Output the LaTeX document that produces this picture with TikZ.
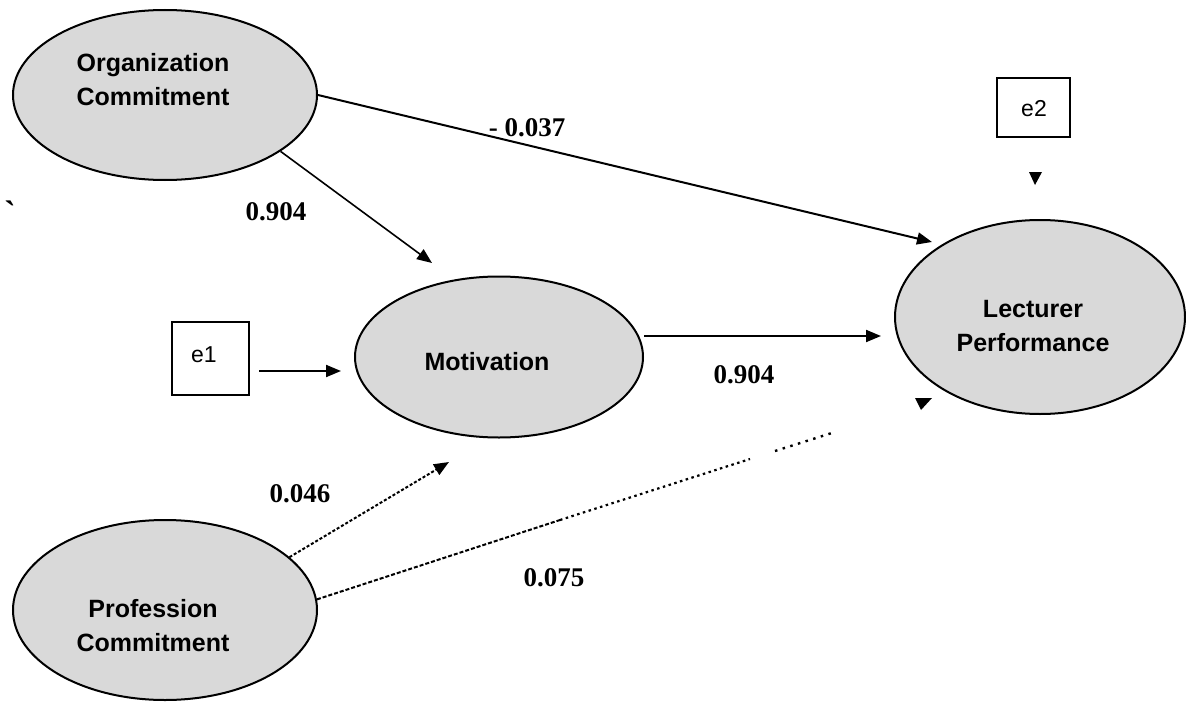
\documentclass[tikz,border=0pt]{standalone}
\usepackage{fontspec}
\setmainfont{Liberation Sans}
\newfontfamily\tnr{Liberation Serif}
\newfontfamily\tnrplain[Ligatures=TeXOff]{Liberation Serif}
\usetikzlibrary{arrows.meta,shapes.geometric}
\definecolor{latentfill}{RGB}{217,217,217}
\tikzset{
  latent/.style={ellipse, draw=black, line width=2pt, fill=latentfill, inner sep=0pt},
  vname/.style={font=\fontsize{25}{34}\selectfont\bfseries, align=center, inner sep=0pt},
  errbox/.style={rectangle, draw=black, line width=2.2pt, fill=white, inner sep=0pt, font=\fontsize{22}{26}\selectfont},
  coef/.style={font=\tnr\fontsize{27}{30}\selectfont\bfseries, inner sep=0pt},
  patharrow/.style={line width=2pt, -{Triangle[length=15pt,width=12pt]}},
  tiptri/.style={fill=black},
}
\begin{document}
\begin{tikzpicture}[x=1pt,y=-1pt]
\useasboundingbox (0,0) rectangle (1186,709);
\fill[white] (0,0) rectangle (1186,709);

% latent variables
\node[latent, minimum width=304pt, minimum height=170pt] (org) at (165,95) {};
\node[vname] (orgt) at (153,80) {Organization\\Commitment};
\node[latent, minimum width=288pt, minimum height=161pt] (mot) at (499,357) {};
\node[vname] (mott) at (487,362) {Motivation};
\node[latent, minimum width=290pt, minimum height=194pt] (lect) at (1040,317) {};
\node[vname] (lectt) at (1033,326) {Lecturer\\Performance};
\node[latent, minimum width=304pt, minimum height=180pt] (prof) at (165,610) {};
\node[vname] (proft) at (153,626) {Profession\\Commitment};

% error terms
\node[errbox, minimum width=77pt, minimum height=73pt] (e1) at (210.5,358.5) {};
\node[font=\fontsize{23}{26}\selectfont, inner sep=0pt] (e1t) at (204,355) {e1};
\node[errbox, minimum width=73pt, minimum height=59pt] (e2) at (1033.5,107.5) {};
\node[font=\fontsize{23}{26}\selectfont, inner sep=0pt] (e2t) at (1034,109) {e2};

% free ends
\coordinate (olA) at (932,242);
\coordinate (omA) at (432,263);
\coordinate (pmA) at (449,462);
\coordinate (pl1) at (560,520);
\coordinate (pl2) at (750,459);
\coordinate (pl3) at (775,451);
\coordinate (pl4) at (835,432);

% connectors
\draw[patharrow] (org.east) -- (olA);
\draw[patharrow, line width=1.6pt] (org.-26) -- (omA);
\draw[patharrow] ([xshift=9pt,yshift=-12.5pt]e1.east) -- ([xshift=-13pt,yshift=-14pt]mot.west);
\draw[patharrow] ([yshift=21pt]mot.east) -- ([xshift=-13pt,yshift=-19pt]lect.west);
\draw[patharrow, dash pattern=on 3pt off 2pt] (prof.23.7) -- (pmA);
\draw[line width=2pt, dash pattern=on 4pt off 2pt] (prof.4.6) -- (pl1);
\draw[line width=2.2pt, dash pattern=on 2.5pt off 3.5pt] (pl1) -- (pl2);
\draw[line width=2.4pt, dash pattern=on 2.5pt off 5.5pt] (pl3) -- (pl4);

% isolated arrow tips
\fill[tiptri] (915,398) -- (932,398) -- (921,410) -- cycle;
\fill[tiptri] (1029,172) -- (1042,172) -- (1035,185) -- cycle;

% coefficients
\node[coef] (c1) at (276,212) {0.904};
\node[coef] (c2) at (527,128) {- 0.037};
\node[coef] (c3) at (744,375) {0.904};
\node[coef] (c4) at (300,494) {0.046};
\node[coef] (c5) at (554,578) {0.075};
\node[font=\tnrplain\fontsize{34}{36}\selectfont\bfseries, inner sep=0pt, anchor=base] (tick) at (10,224) {\symbol{96}};
\end{tikzpicture}
\end{document}
